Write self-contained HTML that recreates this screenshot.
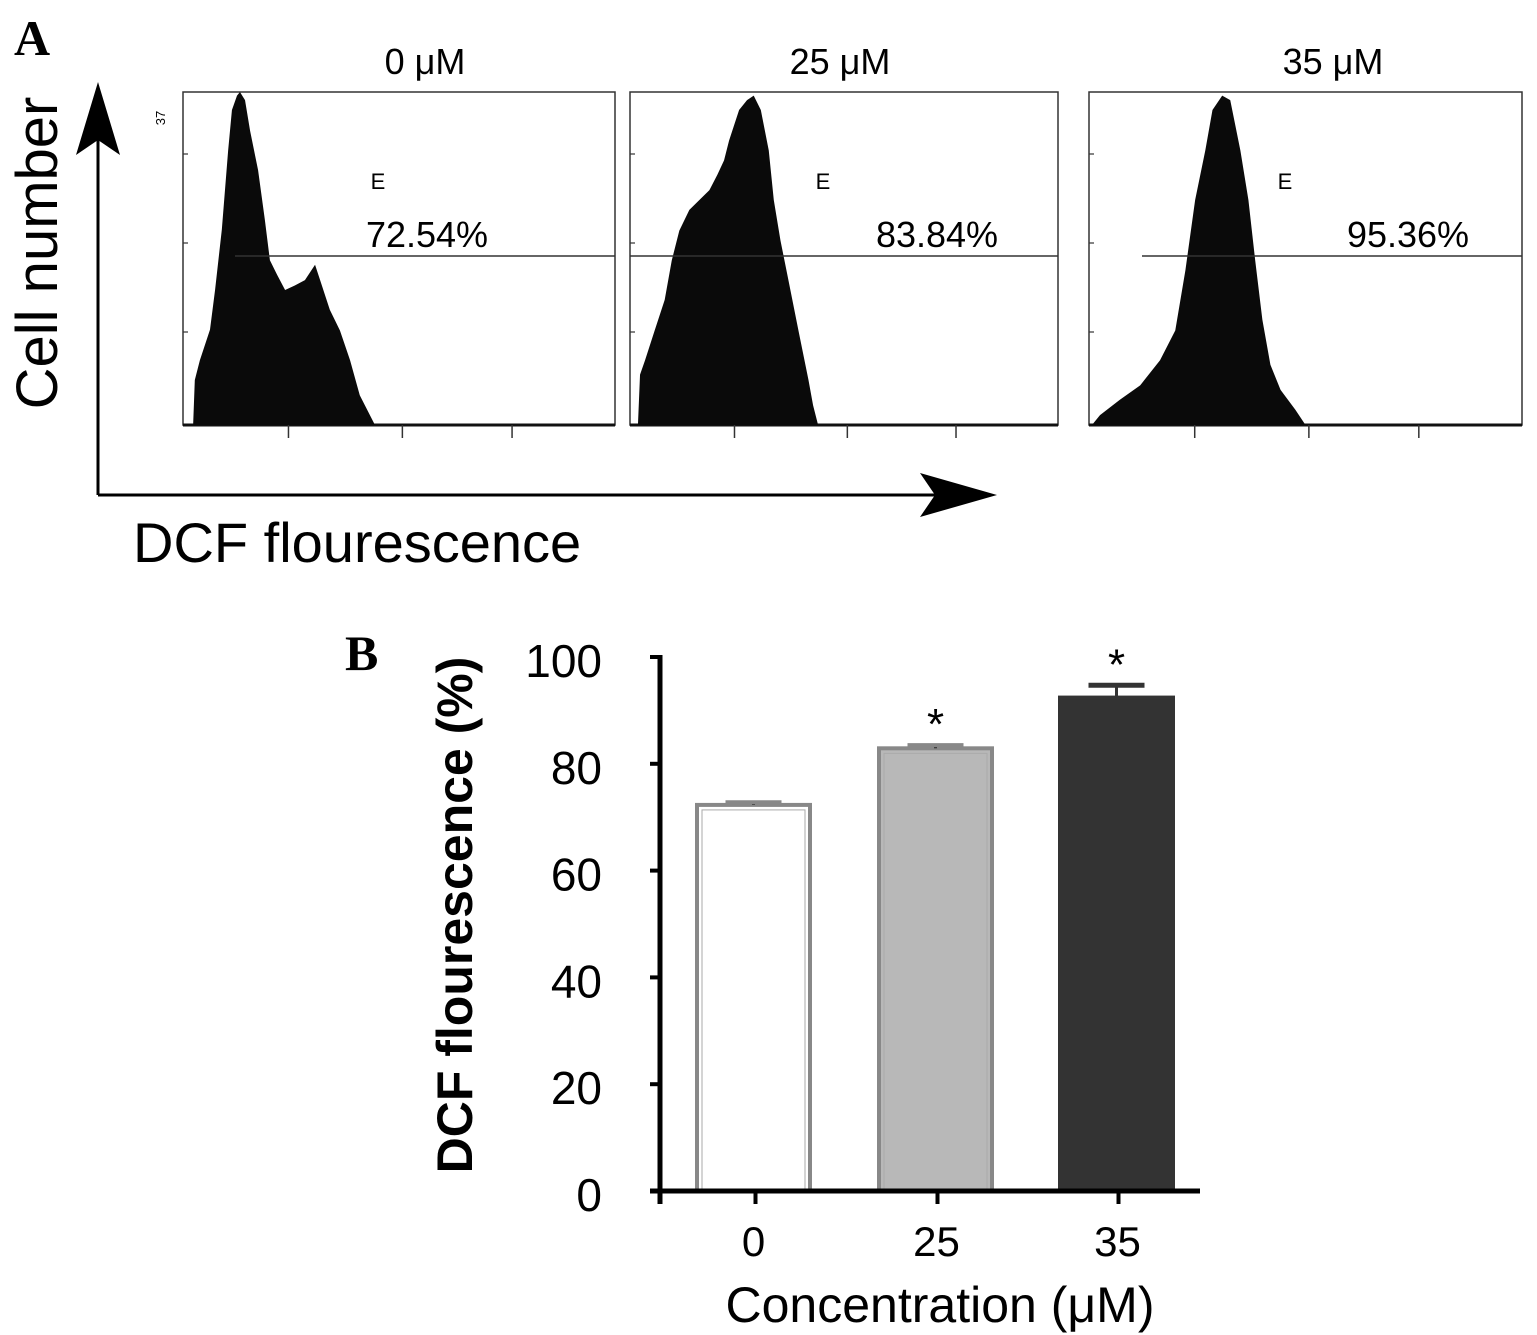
<!DOCTYPE html>
<html><head><meta charset="utf-8"><style>
body{margin:0;background:#fff;}
svg{display:block;font-family:"Liberation Sans",sans-serif;}
</style></head><body>
<svg id="fig" width="1537" height="1335" viewBox="0 0 1537 1335">
<g id="panelA"></g>
<g id="panelB"></g>
</svg>
<script>
// ---- Panel A data ----
const histTitles = ["0 \u03bcM","25 \u03bcM","35 \u03bcM"];
const histPercents = ["72.54%","83.84%","95.36%"];
const ch0 = [0,24,28,40,64,76,92,107,116,128,135,147,159,178,194,206,223,242,265,289,313,325,348,372,396,419,443,455];
const ct0 = [0,0,5.0,7.2,10.6,15.0,21.7,30.5,35.0,36.6,37,36.1,32.7,28.3,22.8,18.3,16.7,15.0,15.5,16.1,17.8,16.1,12.8,10.5,7.2,3.3,1.1,0];
const ch1 = [19,24,36,59,83,100,118,142,166,190,209,225,237,261,280,296,313,332,344,360,379,403,427,438,450];
const ct1 = [0,5.6,7.2,10.5,13.9,18.3,21.6,23.9,25,26.1,27.8,29.4,31.6,35,36.1,36.6,35,30.5,25,20.5,16.1,10.5,5,2.2,0];
const ch2 = [7,26,73,121,168,204,228,251,275,292,315,334,358,377,393,410,429,453,488,512];
const ct2 = [0,1.1,2.8,4.4,7.2,10.5,17.2,25,30.5,35,36.6,36.1,30.5,25,18.3,11.7,6.7,3.9,1.7,0];
const histChannels=[ch0,ch1,ch2], histCounts=[ct0,ct1,ct2];
// ---- Panel B data ----
const barCats = ["0","25","35"];
const barVals = [72.3,82.9,92.4];
const barErrs = [0.5,0.6,2.3];
const barSig = [false,true,true];
const yTicks = [0,20,40,60,80,100];

const NS="http://www.w3.org/2000/svg";
function mk(parent,tag,attrs,text){const e=document.createElementNS(NS,tag);for(const k in attrs)e.setAttribute(k,attrs[k]);if(text!==undefined)e.textContent=text;parent.appendChild(e);return e;}

const A=document.getElementById('panelA');
const lbl=mk(A,'text',{x:14,y:55,'font-family':'Liberation Serif,serif','font-weight':'bold','font-size':50},'A');


const boxes=[[183,615],[630,1058],[1089,1522]];
const hTop=92,hBot=425,chMax=1024,cMax=37;
const tickCh=[250,520,780];
const gateStart=[235,630,1142];
const titleX=[425,840,1333];
boxes.forEach((b,i)=>{
  const g=mk(A,'g',{});
  
  
  const w=b[1]-b[0];
  const xs=c=>b[0]+c/chMax*w;
  const ys=v=>hBot-v/cMax*(hBot-hTop);
  mk(g,'rect',{x:b[0],y:hTop,width:w,height:hBot-hTop,fill:'none',stroke:'#333','stroke-width':1.5});
  mk(g,'line',{x1:b[0],y1:hBot,x2:b[1],y2:hBot,stroke:'#111','stroke-width':3});
  let pts=histChannels[i].map((c,j)=>xs(c)+','+ys(histCounts[i][j])).join(' ');
  const p=mk(g,'polygon',{points:pts+' '+xs(histChannels[i][histChannels[i].length-1])+','+hBot+' '+xs(histChannels[i][0])+','+hBot,fill:'#0a0a0a'});
  
  
  mk(g,'line',{x1:gateStart[i],y1:256,x2:b[1],y2:256,stroke:'#333','stroke-width':1.5});
  tickCh.forEach(c=>mk(g,'line',{x1:xs(c),y1:hBot,x2:xs(c),y2:438,stroke:'#333','stroke-width':1.5}));
  [154,243,332].forEach(y=>mk(g,'line',{x1:b[0],y1:y,x2:b[0]+5,y2:y,stroke:'#333','stroke-width':1.2}));
  const t=mk(g,'text',{x:titleX[i],y:74,'font-size':36,'text-anchor':'middle'},histTitles[i]);
  
  
  mk(g,'text',{x:b[0]+(i==0?195:i==1?193:196),y:189,'font-size':22,'text-anchor':'middle'},'E');
  const pc=mk(g,'text',{x:[427,937,1408][i],y:247,'font-size':36,'text-anchor':'middle'},histPercents[i]);
  
  
});
mk(A,'text',{x:165,y:118,'font-size':13,transform:'rotate(-90 165 118)','text-anchor':'middle'},'37');
mk(A,'line',{x1:98,y1:495,x2:98,y2:120,stroke:'#000','stroke-width':3});
mk(A,'polygon',{points:'98,82 76,155 98,140 120,155',fill:'#000'});
mk(A,'line',{x1:98,y1:495,x2:960,y2:495,stroke:'#000','stroke-width':3});
mk(A,'polygon',{points:'997,495 920,473 935,495 920,517',fill:'#000'});
const yl=mk(A,'text',{x:57,y:253,'font-size':58,'text-anchor':'middle',transform:'rotate(-90 57 253)'},'Cell number');


const xl=mk(A,'text',{x:133,y:562,'font-size':56},'DCF flourescence');



// ---- Panel B ----
const B=document.getElementById('panelB');
const bl=mk(B,'text',{x:345,y:670,'font-family':'Liberation Serif,serif','font-weight':'bold','font-size':50},'B');


const ax0=660,ay0=1191,ay100=657,axEnd=1200;
const yS=v=>ay0-(v/100)*(ay0-ay100);
const barX=[697,879,1060],barW=113;
const fills=['#ffffff','#b8b8b8','#333333'],strokes=['#888','#888','#333'];
barCats.forEach((c,i)=>{
  const g=mk(B,'g',{});
  
  
  const yt=yS(barVals[i]);
  mk(g,'rect',{x:barX[i],y:yt,width:barW,height:ay0-yt,fill:fills[i],stroke:strokes[i],'stroke-width':4});
  if(i<2) mk(g,'rect',{x:barX[i]+5,y:yt+5,width:barW-10,height:ay0-yt-5,fill:'none',stroke:'#aaa','stroke-width':1});
  const ye=yS(barVals[i]+barErrs[i]);
  mk(g,'line',{x1:barX[i]+barW/2,y1:yt,x2:barX[i]+barW/2,y2:ye,stroke:'#333','stroke-width':3});
  mk(g,'line',{x1:barX[i]+barW/2-28,y1:ye,x2:barX[i]+barW/2+28,y2:ye,stroke:i==2?'#333':'#888','stroke-width':i==2?5:4});
  if(barSig[i]){const s=mk(g,'text',{x:barX[i]+barW/2,y:ye-6,'font-size':44,'text-anchor':'middle'},'*');
    
    }
  const xt=mk(B,'text',{x:barX[i]+barW/2+(i==0?0:1),y:1256,'font-size':42,'text-anchor':'middle'},c);
  
  
  mk(B,'line',{x1:barX[i]+barW/2+2,y1:ay0,x2:barX[i]+barW/2+2,y2:1204,stroke:'#000','stroke-width':4});
});
mk(B,'line',{x1:ax0,y1:ay100-2,x2:ax0,y2:1204,stroke:'#000','stroke-width':5});
mk(B,'line',{x1:ax0-10,y1:ay0,x2:axEnd,y2:ay0,stroke:'#000','stroke-width':5});
yTicks.forEach(v=>{
  mk(B,'line',{x1:ax0-10,y1:yS(v),x2:ax0,y2:yS(v),stroke:'#000','stroke-width':4});
  const t=mk(B,'text',{x:602,y:yS(v)+20,'font-size':46,'text-anchor':'end'},String(v));
  
  
});
const yt=mk(B,'text',{x:472,y:915,'font-size':50,'font-weight':'bold','text-anchor':'middle',transform:'rotate(-90 472 915)'},'DCF flourescence (%)');


const xt2=mk(B,'text',{x:940,y:1322,'font-size':50,'text-anchor':'middle'},'Concentration (\u03bcM)');


</script>
</body></html>
